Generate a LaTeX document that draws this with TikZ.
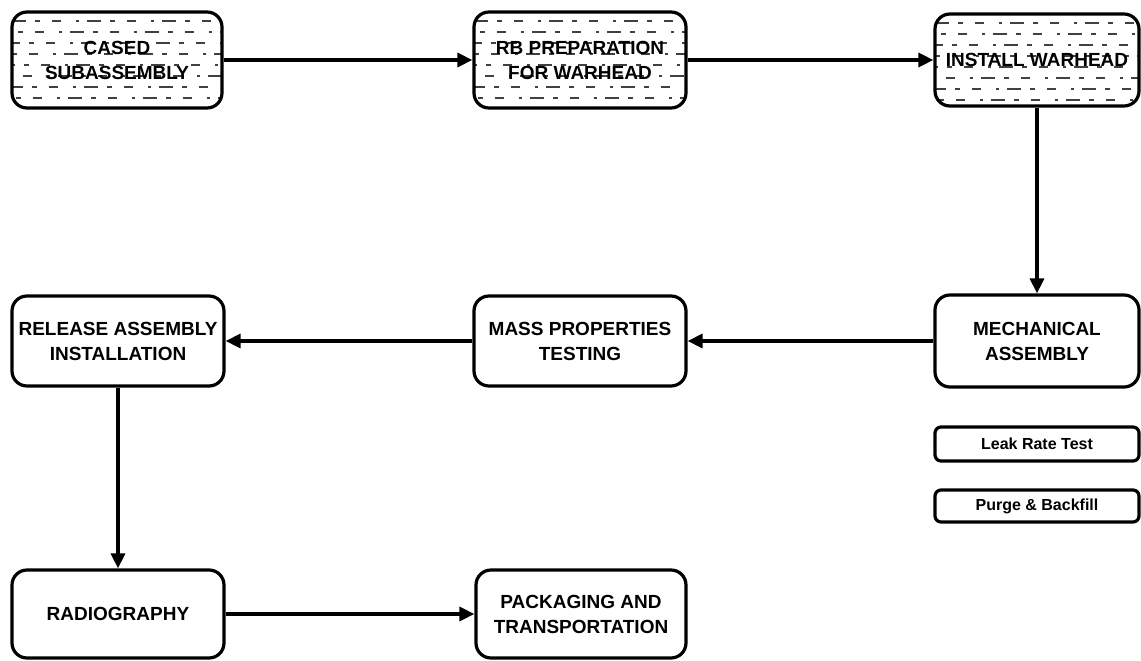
\documentclass[tikz,border=0pt]{standalone}
\usepackage{fontspec}
\setmainfont{Liberation Sans}
\usetikzlibrary{arrows.meta}
\tikzset{
  box/.style={draw=black, line width=3.2pt, rounded corners=15pt, fill=white,
    align=center, inner sep=2pt,
    font=\bfseries\fontsize{19}{25}\selectfont},
  smallbox/.style={draw=black, line width=3.2pt, rounded corners=6pt, fill=white,
    align=center, inner sep=2pt,
    font=\bfseries\fontsize{16}{20}\selectfont},
  redact/.style={path picture={
    \foreach \i/\ph in {0/0,1/17,2/6,3/23,4/11,5/29,6/3,7/19}{
      \draw[black!75, line width=2.2pt,
        dash pattern=on 14pt off 9pt on 5pt off 12pt on 9pt off 15pt on 3pt off 8pt,
        dash phase=\ph pt]
        ([yshift={-(9+\i*11)*1pt}]path picture bounding box.north west) --
        ([yshift={-(9+\i*11)*1pt}]path picture bounding box.north east);
    }}},
  flow/.style={draw=black, line width=3.2pt,
    -{Triangle[length=15pt,width=14pt]}}
}
\begin{document}
\begin{tikzpicture}[x=1pt,y=-1pt]
\useasboundingbox (0,0) rectangle (1141,661);
\fill[white] (0,0) rectangle (1141,661);

\node[box, redact, minimum width=210pt, minimum height=96pt] (b1) at (117,60) {CASED\\SUBASSEMBLY};
\node[box, redact, minimum width=212pt, minimum height=96pt] (b2) at (580,60) {RB PREPARATION\\FOR WARHEAD};
\node[box, redact, minimum width=204pt, minimum height=92pt] (b3) at (1037,60) {INSTALL WARHEAD};

\node[box, minimum width=204pt, minimum height=92pt] (b4) at (1037,341) {MECHANICAL\\ASSEMBLY};
\node[box, minimum width=212pt, minimum height=90pt] (b5) at (580,341) {MASS PROPERTIES\\TESTING};
\node[box, minimum width=212pt, minimum height=90pt] (b6) at (118,341) {RELEASE ASSEMBLY\\INSTALLATION};

\node[smallbox, minimum width=204pt, minimum height=34pt] (leak) at (1037,444) {Leak Rate Test};
\node[smallbox, minimum width=204pt, minimum height=32pt] (purge) at (1037,506) {Purge \& Backfill};

\node[box, minimum width=212pt, minimum height=88pt] (b7) at (118,614) {RADIOGRAPHY};
\node[box, minimum width=210pt, minimum height=88pt] (b8) at (581,614) {PACKAGING AND\\TRANSPORTATION};

\draw[flow] (b1) -- (b2);
\draw[flow] (b2) -- (b3);
\draw[flow] (b3) -- (b4);
\draw[flow] (b4) -- (b5);
\draw[flow] (b5) -- (b6);
\draw[flow] (b6) -- (b7);
\draw[flow] (b7) -- (b8);
\end{tikzpicture}
\end{document}
